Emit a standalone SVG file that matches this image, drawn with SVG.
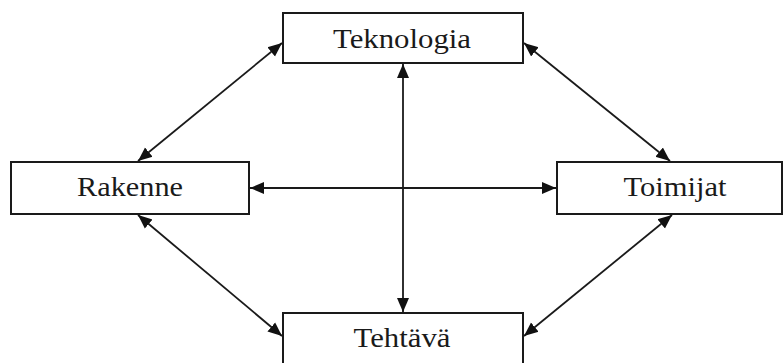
<svg xmlns="http://www.w3.org/2000/svg" width="784" height="363" viewBox="0 0 784 363">
<style>
.box{fill:#fff;stroke:#1a1a1a;stroke-width:2}
.lbl{font-family:'Liberation Serif','Times New Roman',Tinos,'DejaVu Serif','Noto Serif',Georgia,serif;font-size:27px;fill:#1a1a1a;text-anchor:middle}
.con{stroke:#1a1a1a;stroke-width:1.8;fill:none;marker-start:url(#ah);marker-end:url(#ah)}
</style>
<defs>
<marker id="ah" markerUnits="userSpaceOnUse" markerWidth="16" markerHeight="14" refX="14" refY="7" orient="auto-start-reverse">
<path d="M0,1 L14,7 L0,13 z" fill="#111"/>
</marker>
</defs>
<rect width="784" height="363" fill="#fff"/>
<g id="connectors">
<line class="con" x1="282" y1="43" x2="138" y2="161"/>
<line class="con" x1="524" y1="43" x2="670" y2="161"/>
<line class="con" x1="138" y1="215" x2="282" y2="336"/>
<line class="con" x1="672" y1="215" x2="524" y2="336"/>
<line class="con" x1="250" y1="188" x2="556" y2="188"/>
<line class="con" x1="403" y1="64" x2="403" y2="312"/>
</g>
<g id="teknologia">
<rect class="box" x="283" y="13" width="240" height="50"/>
<text class="lbl" x="402" y="48" textLength="138" lengthAdjust="spacingAndGlyphs">Teknologia</text>
</g>
<g id="rakenne">
<rect class="box" x="11" y="162" width="238" height="52"/>
<text class="lbl" x="130" y="196" textLength="106" lengthAdjust="spacingAndGlyphs">Rakenne</text>
</g>
<g id="toimijat">
<rect class="box" x="557" y="162" width="225" height="52"/>
<text class="lbl" x="675" y="196" textLength="103" lengthAdjust="spacingAndGlyphs">Toimijat</text>
</g>
<g id="tehtava">
<rect class="box" x="283" y="313" width="240" height="60"/>
<text class="lbl" x="402" y="347" textLength="97" lengthAdjust="spacingAndGlyphs">Tehtävä</text>
</g>
</svg>
